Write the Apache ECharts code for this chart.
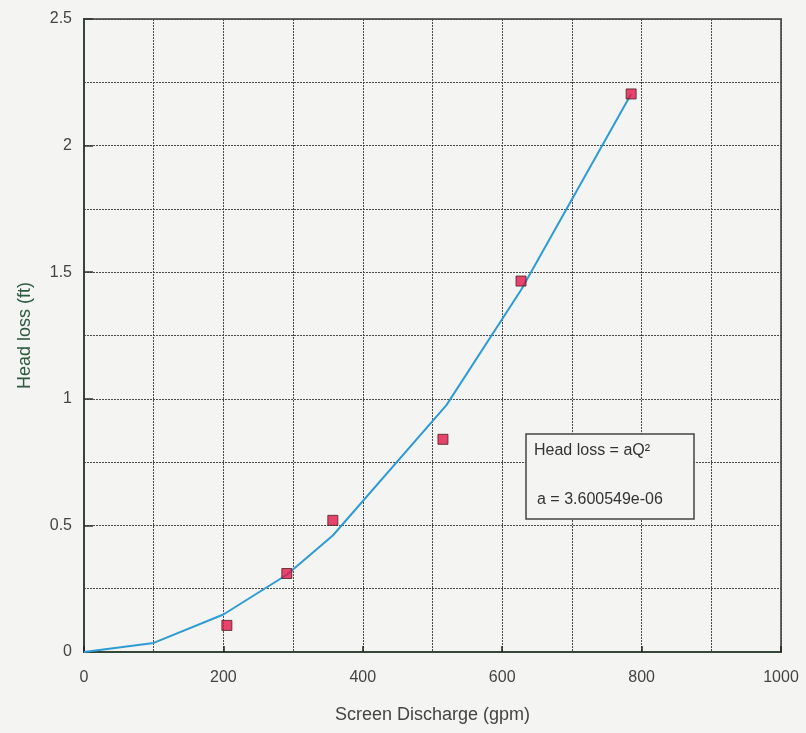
<!DOCTYPE html>
<html><head><meta charset="utf-8">
<script src="https://cdn.jsdelivr.net/npm/echarts@6/dist/echarts.min.js"></script>
<style>html,body{margin:0;padding:0;background:#f4f4f2}#c{width:806px;height:733px}</style>
</head><body><div id="c"></div>
<script>
// Measured data points (Screen discharge gpm, head loss ft)
var dischargeQ = [205, 291, 357, 515, 627, 785];
var headLoss = [0.105, 0.31, 0.52, 0.84, 1.465, 2.204];
// Fitted curve Head loss = aQ^2
var fitQ = [0, 100, 200, 291, 357, 520, 627, 785];
var fitLoss = [0, 0.036, 0.148, 0.305, 0.46, 0.975, 1.43, 2.204];
var xTicks = [0, 200, 400, 600, 800, 1000];
var yTicks = [0, 0.5, 1, 1.5, 2, 2.5];
var titleX = 'Screen Discharge (gpm)';
var titleY = 'Head loss (ft)';
var noteLine1 = 'Head loss = aQ\u00B2';
var noteLine2 = 'a = 3.600549e-06';

var chart = echarts.init(document.getElementById('c'));
var gridLine = {show:true, lineStyle:{color:'#4a4a4a', width:1, type:[2,1]}};
chart.setOption({
  backgroundColor:'#f4f4f2',
  animation:false,
  grid:{left:84, right:25, top:19, bottom:81, show:true, borderColor:'#666', borderWidth:2, backgroundColor:'transparent'},
  xAxis:{
    type:'value', min:xTicks[0], max:xTicks[xTicks.length-1], interval:200,
    name:titleX, nameLocation:'middle', nameGap:54,
    nameTextStyle:{color:'#444', fontSize:18, fontFamily:'Liberation Sans'},
    axisLine:{show:true, lineStyle:{color:'#33473a', width:2}},
    axisTick:{show:true, inside:true, length:6, lineStyle:{color:'#222', width:1.5}},
    axisLabel:{color:'#444', fontSize:16, margin:18, fontFamily:'Liberation Sans',
      formatter:function(v){return String(v);}},
    splitLine:gridLine,
    minorTick:{show:false, splitNumber:2},
    minorSplitLine:gridLine
  },
  yAxis:{
    type:'value', min:yTicks[0], max:yTicks[yTicks.length-1], interval:0.5,
    name:titleY, nameLocation:'middle', nameGap:50,
    nameTextStyle:{color:'#2f5a40', fontSize:18, fontFamily:'Liberation Sans'},
    axisLine:{show:true, lineStyle:{color:'#33473a', width:2}},
    axisTick:{show:true, inside:true, length:9, lineStyle:{color:'#333', width:1.5}},
    axisLabel:{color:'#444', fontSize:16, margin:12, fontFamily:'Liberation Sans',
      formatter:function(v){return String(v);}},
    splitLine:gridLine,
    minorTick:{show:false, splitNumber:2},
    minorSplitLine:gridLine
  },
  series:[
    {type:'line', data:fitQ.map(function(q,i){return [q, fitLoss[i]];}),
     symbol:'none', lineStyle:{color:'#2f9bd3', width:2}, z:3},
    {type:'scatter', data:dischargeQ.map(function(q,i){return [q, headLoss[i]];}),
     symbol:'rect', symbolSize:10,
     itemStyle:{color:'#e3174a', borderColor:'#4a2020', borderWidth:1}, z:4}
  ],
  graphic:[
    {type:'rect', shape:{x:526, y:434, width:168, height:85},
     style:{fill:'#f4f4f2', stroke:'#444', lineWidth:1.5}, z:10},
    {type:'text', x:534, y:443, style:{text:noteLine1, fill:'#333', font:'16px "Liberation Sans"'}, z:11},
    {type:'text', x:537, y:492, style:{text:noteLine2, fill:'#333', font:'16px "Liberation Sans"'}, z:11}
  ]
});
</script></body></html>
